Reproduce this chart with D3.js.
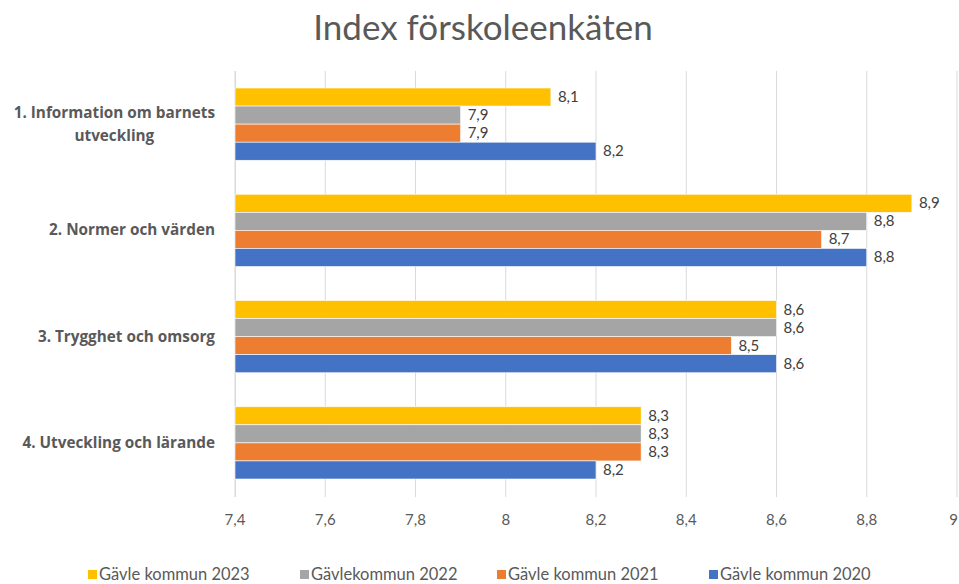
<!DOCTYPE html>
<html>
<head>
<meta charset="utf-8">
<script src="https://cdn.jsdelivr.net/npm/d3@7"></script>
<style>
  body { margin: 0; background: #fff; }
  text { font-family: Lato, "Open Sans", sans-serif; }
</style>
</head>
<body>
<div id="chart"></div>
<script>
const width = 959;
const height = 584;

// data
const categories = [
  ["1. Information om barnets", "utveckling"],
  ["2. Normer och värden"],
  ["3. Trygghet och omsorg"],
  ["4. Utveckling och lärande"]
];
const seriesNames = ["Gävle kommun 2023", "Gävlekommun 2022", "Gävle kommun 2021", "Gävle kommun 2020"];
const seriesColors = ["#FFC000", "#A5A5A5", "#ED7D31", "#4472C4"];
const values = [
  [8.1, 7.9, 7.9, 8.2],
  [8.9, 8.8, 8.7, 8.8],
  [8.6, 8.6, 8.5, 8.6],
  [8.3, 8.3, 8.3, 8.2]
];
const ticks = [7.4, 7.6, 7.8, 8, 8.2, 8.4, 8.6, 8.8, 9];

const fmt = (d) => String(d).replace(".", ",");

const svg = d3
  .select("#chart")
  .append("svg")
  .attr("width", width)
  .attr("height", height);

const x = d3.scaleLinear().domain([7.4, 9]).range([235, 957]);
const y = d3.scaleBand().domain(d3.range(categories.length)).range([71, 496]).paddingInner(0.32).paddingOuter(0.16);
const ySub = d3.scaleBand().domain(d3.range(seriesNames.length)).range([0, y.bandwidth()]);

// title
svg.append("text")
  .attr("x", 483)
  .attr("y", 40)
  .attr("text-anchor", "middle")
  .attr("font-size", 35)
  .attr("fill", "#595959")
  .text("Index förskoleenkäten");

// gridlines
svg.append("g")
  .selectAll("line")
  .data(ticks)
  .join("line")
  .attr("x1", (d) => x(d))
  .attr("x2", (d) => x(d))
  .attr("y1", 71)
  .attr("y2", 497)
  .attr("stroke", "#d9d9d9")
  .attr("stroke-width", 1);

// x tick labels (last one kept inside the edge)
svg.append("g")
  .selectAll("text")
  .data(ticks)
  .join("text")
  .attr("x", (d, i) => (i === ticks.length - 1 ? width - 1 : x(d)))
  .attr("y", 525)
  .attr("text-anchor", (d, i) => (i === ticks.length - 1 ? "end" : "middle"))
  .attr("font-size", 15)
  .attr("fill", "#595959")
  .text(fmt);

// category axis line
svg.append("line")
  .attr("x1", 235.5).attr("x2", 235.5)
  .attr("y1", 71).attr("y2", 497)
  .attr("stroke", "#d9d9d9");

// bars
const groups = svg.append("g")
  .selectAll("g")
  .data(values)
  .join("g")
  .attr("transform", (d, i) => `translate(0 ${y(i)})`);

groups.selectAll("rect")
  .data((d) => d)
  .join("rect")
  .attr("x", x(7.4))
  .attr("y", (d, j) => ySub(j))
  .attr("width", (d) => x(d) - x(7.4))
  .attr("height", ySub.bandwidth())
  .attr("fill", (d, j) => seriesColors[j])
  .attr("stroke", "#ffffff")
  .attr("stroke-width", 0.6);

groups.selectAll("text")
  .data((d) => d)
  .join("text")
  .attr("x", (d) => x(d) + 7)
  .attr("y", (d, j) => ySub(j) + ySub.bandwidth() / 2 + 5)
  .attr("font-size", 15)
  .attr("fill", "#404040")
  .text(fmt);

// category labels
const labels = svg.append("g")
  .selectAll("text")
  .data(categories)
  .join("text")
  .style("font-family", "'Open Sans', sans-serif")
  .attr("font-size", 15.3)
  .attr("font-weight", "bold")
  .attr("fill", "#595959")
  .attr("text-anchor", "middle");

labels.each(function (lines, i) {
  const t = d3.select(this);
  const cy = y(i) + y.bandwidth() / 2;
  const lh = 23;
  const y0 = cy - ((lines.length - 1) * lh) / 2 + 5;
  lines.forEach((ln, k) => {
    t.append("tspan").attr("y", y0 + k * lh).text(ln);
  });
  let maxW = 0;
  t.selectAll("tspan").each(function () {
    maxW = Math.max(maxW, this.getComputedTextLength());
  });
  t.selectAll("tspan").attr("x", 215 - maxW / 2);
});

// legend
const legendX = [88, 300, 497, 709];
const legend = svg.append("g")
  .selectAll("g")
  .data(seriesNames)
  .join("g")
  .attr("transform", (d, i) => `translate(${legendX[i]} 575)`);

legend.append("rect")
  .attr("x", 0)
  .attr("y", -5)
  .attr("width", 9)
  .attr("height", 9)
  .attr("fill", (d, i) => seriesColors[i]);

legend.append("text")
  .attr("x", 11)
  .attr("y", 5)
  .attr("font-size", 16.5)
  .attr("fill", "#595959")
  .text((d) => d);
</script>
</body>
</html>
